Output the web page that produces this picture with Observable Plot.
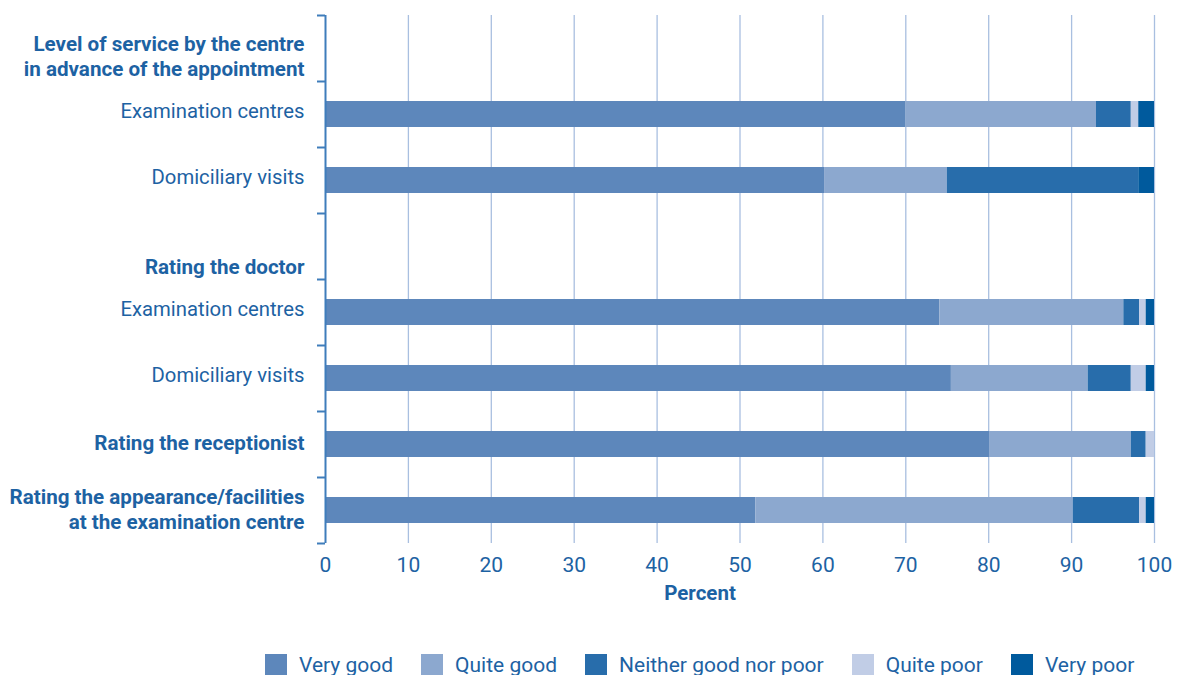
<!DOCTYPE html>
<html>
<head>
<meta charset="utf-8">
<script src="https://cdn.jsdelivr.net/npm/d3@7"></script>
<script src="https://cdn.jsdelivr.net/npm/@observablehq/plot@0.6"></script>
<style>
  html, body { margin: 0; padding: 0; background: #fff; overflow: hidden; }
  #chart { width: 1182px; }
  .legend { display: flex; align-items: center; padding-left: 265px; margin-top: 34px;
            font-family: Roboto, sans-serif; font-size: 21px; color: #1d62a3; line-height: 22px; }
  .legend .item { display: flex; align-items: center; margin-right: 28px; }
  .legend .sw { width: 22px; height: 22px; margin-right: 12px; flex: none; }
</style>
</head>
<body>
<div id="chart"></div>
<script>
// ---- data ----
const rows = ["service", "service-exam", "service-dom", "doctor", "doctor-exam", "doctor-dom", "receptionist", "appearance"];
const rowLabels = [
  "Level of service by the centre\nin advance of the appointment",
  "Examination centres",
  "Domiciliary visits",
  "Rating the doctor",
  "Examination centres",
  "Domiciliary visits",
  "Rating the receptionist",
  "Rating the appearance/facilities\nat the examination centre"
];
const rowBold = [true, false, false, true, false, false, true, true];

const categories = ["Very good", "Quite good", "Neither good nor poor", "Quite poor", "Very poor"];
const colors = ["#5d87bb", "#8ca8cf", "#286dab", "#c1cde6", "#005a9d"];

const barRows   = ["service-exam", "service-dom", "doctor-exam", "doctor-dom", "receptionist", "appearance"];
const veryGood  = [70.0, 60.2, 74.1, 75.5, 80.1, 51.9];
const quiteGood = [23.0, 14.8, 22.2, 16.5, 17.1, 38.3];
const neither   = [4.2, 23.1, 1.9, 5.2, 1.8, 8.0];
const quitePoor = [0.9, 0.0, 0.8, 1.8, 1.0, 0.8];
const veryPoor  = [1.9, 1.9, 1.0, 1.0, 0.0, 1.0];

const xTicks = [0, 10, 20, 30, 40, 50, 60, 70, 80, 90, 100];
const xLabel = "Percent";

// ---- build tables ----
const series = [veryGood, quiteGood, neither, quitePoor, veryPoor];
const bars = [];
barRows.forEach((r, i) => {
  categories.forEach((c, k) => bars.push({row: r, category: c, value: series[k][i]}));
});
const labels = rows.map((r, i) => ({row: r, text: rowLabels[i], bold: rowBold[i], hasBar: barRows.includes(r)}));

// ---- layout ----
const W = 1182, H = 620, mT = 15, mB = 77, mL = 325, mR = 28;
const band = (H - mT - mB) / rows.length;
const textColor = "#1d62a3";
const axisColor = "#3f7dbb";
const gridColor = "#a9bfe0";
const font = "Roboto, sans-serif";

const chart = Plot.plot({
  width: W, height: H,
  marginTop: mT, marginBottom: mB, marginLeft: mL, marginRight: mR,
  style: {fontFamily: font, fontSize: "21px", color: textColor, background: "#fff"},
  x: {domain: [0, 100]},
  y: {domain: rows, padding: 0, axis: null},
  color: {domain: categories, range: colors},
  marks: [
    Plot.gridX(xTicks.filter(d => d > 0), {stroke: gridColor, strokeOpacity: 1, strokeWidth: 1.3}),
    Plot.barX(bars, Plot.stackX({x: "value", y: "row", fill: "category", order: categories, insetTop: 20, insetBottom: 20})),
    Plot.axisX({ticks: xTicks, tickSize: 0, tickPadding: 14, fontSize: 21, fill: textColor, label: null, tickFormat: d => String(d)}),
    Plot.text([xLabel], {frameAnchor: "bottom", dx: -40, dy: 56, fontWeight: "bold", fontSize: 20.5, fill: textColor}),
    // y axis line and boundary ticks
    Plot.ruleX([0], {stroke: axisColor, strokeWidth: 2}),
    Plot.ruleY(rows, {y: d => d, x1: 0, x2: 0, insetLeft: -8, dy: -band / 2, stroke: axisColor, strokeWidth: 2}),
    Plot.ruleY(rows.slice(-1), {y: d => d, x1: 0, x2: 0, insetLeft: -8, dy: band / 2, stroke: axisColor, strokeWidth: 2}),
    // labels on bar rows
    Plot.text(labels.filter(d => d.hasBar && !d.bold), {y: "row", text: "text", frameAnchor: "left", textAnchor: "end", dx: -21, dy: -4.5, fill: textColor, fontSize: 20.3, lineHeight: 1.23}),
    Plot.text(labels.filter(d => d.hasBar && d.bold), {y: "row", text: "text", frameAnchor: "left", textAnchor: "end", dx: -21, dy: -2, fill: textColor, fontSize: 20.6, fontWeight: "bold", lineHeight: 1.21}),
    // section headings (no bar) sit at the bottom of their band
    Plot.text(labels.filter(d => !d.hasBar), {y: "row", text: "text", frameAnchor: "left", textAnchor: "end", lineAnchor: "bottom", dx: -21, dy: band / 2 - 6, fill: textColor, fontSize: 20.6, fontWeight: "bold", lineHeight: 1.21})
  ]
});
document.getElementById("chart").appendChild(chart);

// legend
const legend = document.createElement("div");
legend.className = "legend";
categories.forEach((c, i) => {
  const item = document.createElement("div");
  item.className = "item";
  const sw = document.createElement("span");
  sw.className = "sw";
  sw.style.background = colors[i];
  const t = document.createElement("span");
  t.textContent = c;
  item.appendChild(sw);
  item.appendChild(t);
  legend.appendChild(item);
});
document.getElementById("chart").appendChild(legend);
</script>
</body>
</html>
